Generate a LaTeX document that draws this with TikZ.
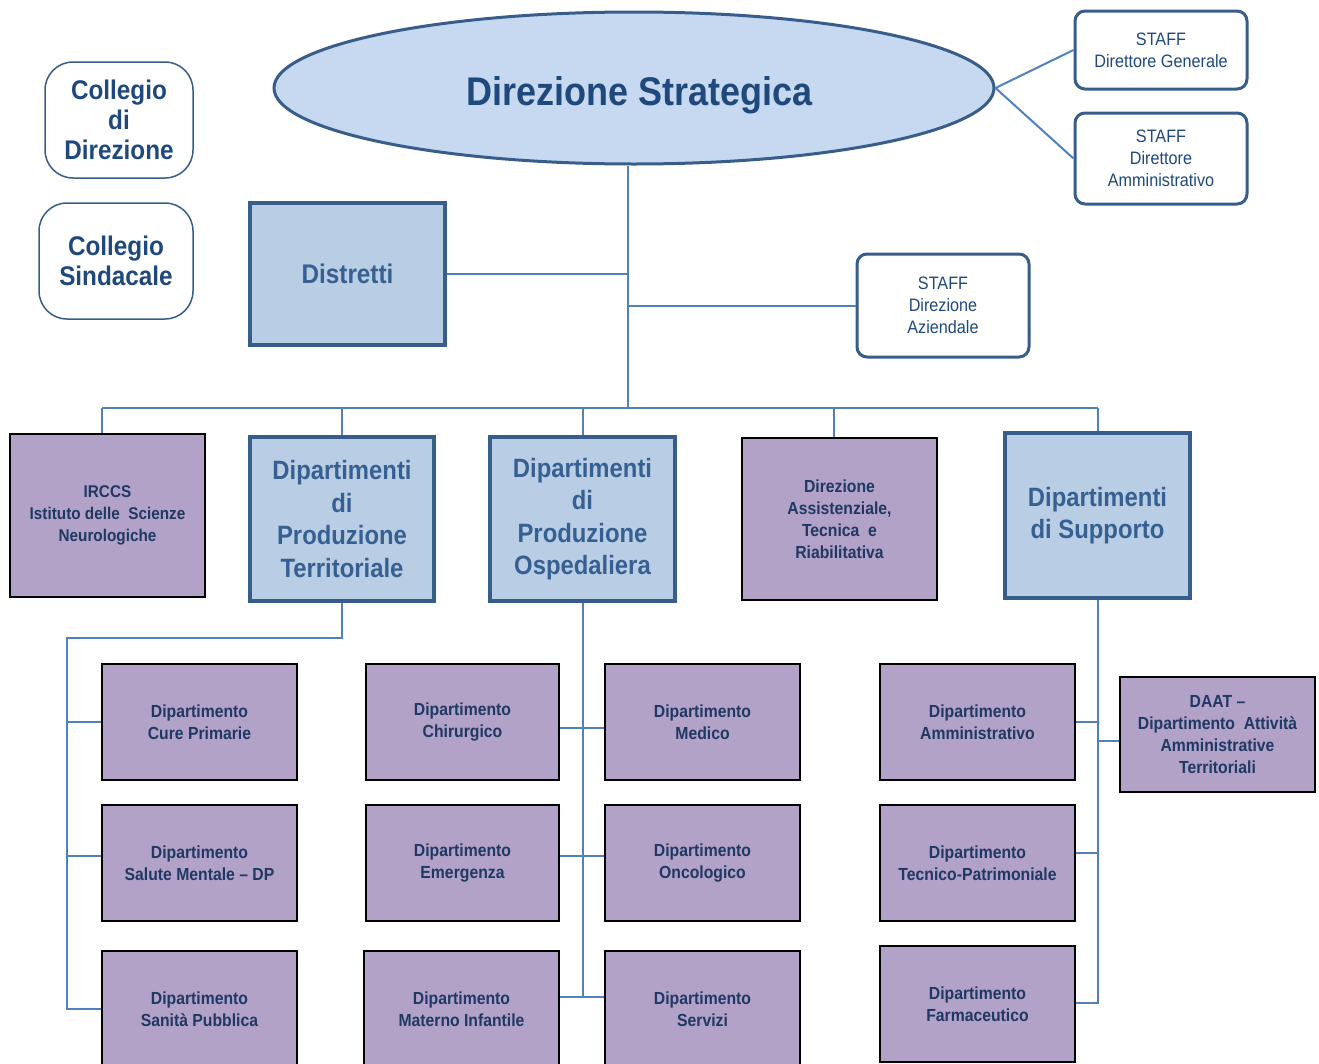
\documentclass[tikz,border=0pt]{standalone}
\usepackage{fontspec}
\setmainfont{Liberation Sans}[FakeStretch=0.9]
\usetikzlibrary{shapes.geometric}
\definecolor{ellfill}{HTML}{C6D9F1}
\definecolor{boxblue}{HTML}{B9CDE5}
\definecolor{bordblue}{HTML}{385D8A}
\definecolor{lineblue}{HTML}{4F81BD}
\definecolor{navy}{HTML}{1F497D}
\definecolor{midblue}{HTML}{376092}
\definecolor{darknavy}{HTML}{1F3864}
\definecolor{lilac}{HTML}{B3A2C7}
\begin{document}
\begin{tikzpicture}[x=1pt,y=-1pt,
  head/.style={ellipse, draw=bordblue, line width=3pt, fill=ellfill, inner sep=0pt,
    minimum width=720, minimum height=152},
  headtxt/.style={text=navy, inner sep=0pt, font=\fontsize{40}{44}\selectfont\bfseries},
  council/.style={rectangle, rounded corners=28pt, draw=bordblue, line width=1.5pt,
    fill=white, text=navy, align=center, inner sep=0pt,
    font=\fontsize{27}{30}\selectfont\bfseries},
  staffbox/.style={rectangle, rounded corners=10pt, draw=bordblue, line width=3pt,
    fill=white, text=navy, align=center, inner sep=0pt,
    minimum width=172, font=\fontsize{18}{22}\selectfont},
  bluebox/.style={rectangle, draw=bordblue, line width=3.5pt, fill=boxblue,
    text=midblue, align=center, inner sep=0pt},
  bigtxt/.style={font=\fontsize{26.5}{32.5}\selectfont\bfseries},
  purpbox/.style={rectangle, draw=black, line width=2pt, fill=lilac,
    text=darknavy, align=center, inner sep=0pt,
    font=\fontsize{17.5}{22}\selectfont\bfseries},
  dept/.style={purpbox, minimum width=195, minimum height=116},
  link/.style={draw=lineblue, line width=2pt}
]
\useasboundingbox (0,0) rectangle (1319,1063);
\clip (0,0) rectangle (1319,1063);

% top level
\node[head] (ds) at (634,88) {};
\node[headtxt] (dst) at (640,95) {Direzione Strategica};
\node[council, minimum width=148, minimum height=116] (cdir) at (119,120)
  {Collegio\\di\\Direzione};
\node[council, minimum width=154, minimum height=116] (csin) at (116,261)
  {Collegio\\Sindacale};
\node[staffbox, minimum height=78] (sdg) at (1161,50) {STAFF\\Direttore Generale};
\node[staffbox, minimum height=91] (sda) at (1161,158.5) {STAFF\\Direttore\\Amministrativo};
\node[staffbox, minimum height=103] (saz) at (943,305.5) {STAFF\\Direzione\\Aziendale};
\node[bluebox, minimum width=195, minimum height=142,
  font=\fontsize{27}{32}\selectfont\bfseries] (dis) at (347.5,274) {Distretti};

% second level
\node[purpbox, minimum width=195, minimum height=163,
  font=\fontsize{17}{22}\selectfont\bfseries] (irc) at (107.5,515.5)
  {IRCCS\\Istituto delle\ \ Scienze\\Neurologiche};
\node[bluebox, bigtxt, minimum width=184, minimum height=164] (dpt) at (342,519)
  {Dipartimenti\\di\\Produzione\\Territoriale};
\node[bluebox, bigtxt, minimum width=185, minimum height=164] (dpo) at (582.5,519)
  {Dipartimenti\\di\\Produzione\\Ospedaliera};
\node[purpbox, minimum width=195, minimum height=162] (das) at (839.5,519)
  {Direzione\\Assistenziale,\\Tecnica\ \ e\\Riabilitativa};
\node[bluebox, bigtxt, minimum width=185, minimum height=165] (sup) at (1097.5,515.5)
  {Dipartimenti\\di Supporto};

% departments
\node[dept] (cp) at (199.5,722) {Dipartimento\\Cure Primarie};
\node[dept] (sm) at (199.5,863) {Dipartimento\\Salute Mentale -- DP};
\node[dept] (spu) at (199.5,1009) {Dipartimento\\Sanità Pubblica};
\node[dept, minimum width=193] (ch) at (462.5,722) {Dipartimento\\Chirurgico};
\node[dept, minimum width=193] (em) at (462.5,863) {Dipartimento\\Emergenza};
\node[dept, minimum width=195] (mi) at (461.5,1009) {Dipartimento\\Materno Infantile};
\node[dept] (me) at (702.5,722) {Dipartimento\\Medico};
\node[dept] (on) at (702.5,863) {Dipartimento\\Oncologico};
\node[dept] (se) at (702.5,1009) {Dipartimento\\Servizi};
\node[dept] (am) at (977.5,722) {Dipartimento\\Amministrativo};
\node[dept] (tp) at (977.5,863) {Dipartimento\\Tecnico-Patrimoniale};
\node[dept] (fa) at (977.5,1004) {Dipartimento\\Farmaceutico};
\node[dept, minimum height=115] (daat) at (1217.5,734.5)
  {DAAT --\\Dipartimento\ \ Attività\\Amministrative\\Territoriali};

% connectors from the top
\coordinate (hub) at (628,408);
\draw[link] (ds.east) -- (sdg.west);
\draw[link] (ds.east) -- (sda.west);
\draw[link] (hub |- ds.south) -- (hub);
\draw[link] (dis.east) -- (dis.east -| hub);
\draw[link] (saz.west) -- (saz.west -| hub);

% horizontal bus and drops
\draw[link] ([xshift=-5.5pt]irc.north |- hub) -- (sup.north |- hub);
\draw[link] ([xshift=-5.5pt]irc.north |- hub) -- ([xshift=-5.5pt]irc.north);
\draw[link] (dpt.north |- hub) -- (dpt.north);
\draw[link] (dpo.north |- hub) -- (dpo.north);
\draw[link] ([xshift=-5.5pt]das.north |- hub) -- ([xshift=-5.5pt]das.north);
\draw[link] (sup.north |- hub) -- (sup.north);

% territorial departments
\coordinate (tl) at (67,638);
\draw[link] (dpt.south) -- (dpt.south |- tl) -- (tl) -- (spu.west -| tl) -- (spu.west);
\draw[link] (cp.west -| tl) -- (cp.west);
\draw[link] ([yshift=7pt]sm.west -| tl) -- ([yshift=7pt]sm.west);

% hospital departments
\coordinate (ob) at (582.5,997);
\draw[link] (dpo.south) -- (ob);
\draw[link] ([yshift=-6pt]ch.east) -- ([yshift=-6pt]me.west);
\draw[link] ([yshift=7pt]em.east) -- ([yshift=7pt]on.west);
\draw[link] ([yshift=12pt]mi.east) -- ([yshift=12pt]se.west);

% support departments
\coordinate (sb) at (1097.5,1003);
\draw[link] (sup.south) -- (sb) -- (fa.east |- sb);
\draw[link] (am.east) -- (am.east -| sb);
\draw[link] ([yshift=10pt]tp.east) -- ([yshift=10pt]tp.east -| sb);
\draw[link] ([yshift=-6.5pt]daat.west) -- ([yshift=-6.5pt]daat.west -| sb);
\end{tikzpicture}
\end{document}
